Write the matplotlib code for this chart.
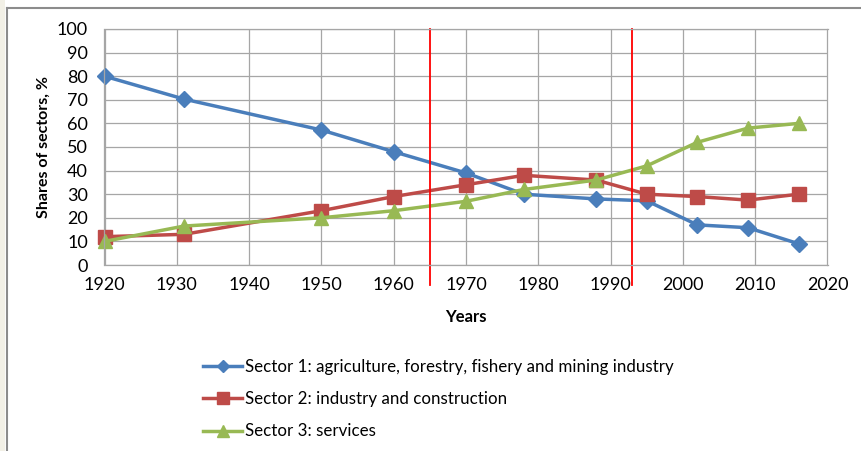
import matplotlib.pyplot as plt
from matplotlib.lines import Line2D
from matplotlib.patches import Rectangle

years = [1920, 1931, 1950, 1960, 1970, 1978, 1988, 1995, 2002, 2009, 2016]
sector1 = [80, 70.3, 57.2, 48, 39, 30, 28, 27.2, 17, 15.8, 9]
sector2 = [12, 13, 23, 29, 34, 38, 36, 30, 29, 27.5, 30]
sector3 = [10, 16.5, 20, 23, 27, 32, 36, 42, 52, 58, 60]
labels = ["Sector 1: agriculture, forestry, fishery and mining industry",
          "Sector 2: industry and construction",
          "Sector 3: services"]
breaks = [1965, 1993]

plt.rcParams['font.family'] = ['Lato', 'DejaVu Sans']

fig = plt.figure(figsize=(8.62, 4.51), dpi=100)
fig.patch.set_facecolor("white")

# chart frame (left/top edges visible in the screenshot)
fig.add_artist(Rectangle((0, 0), 5 / 862, 1, transform=fig.transFigure,
                         facecolor="#f2f0e6", edgecolor="none"))
fig.add_artist(Line2D([7 / 862, 7 / 862], [0, 1 - 8 / 451], transform=fig.transFigure,
                      color="#8c8c8c", lw=1.5))
fig.add_artist(Line2D([7 / 862, 1], [1 - 8 / 451, 1 - 8 / 451], transform=fig.transFigure,
                      color="#8c8c8c", lw=1.5))

ax = fig.add_axes([104.5 / 862, 1 - 265 / 451, 723 / 862, 236 / 451])
ax.set_xlim(1920, 2020)
ax.set_ylim(0, 100)
ax.set_xticks(range(1920, 2021, 10))
ax.set_yticks(range(0, 101, 10))
ax.grid(True, color="#a6a6a6", lw=0.9)
ax.set_axisbelow(True)
for s in ax.spines.values():
    s.set_color("#a6a6a6")
    s.set_linewidth(0.9)
ax.tick_params(length=0, labelsize=13)
ax.tick_params(axis="y", pad=12)
ax.tick_params(axis="x", pad=9)

ax.plot(years, sector1, color="#4a7ebb", lw=2.5, marker="D", ms=8, label=labels[0], clip_on=False)
ax.plot(years, sector2, color="#be4b48", lw=2.5, marker="s", ms=10, label=labels[1], clip_on=False)
ax.plot(years, sector3, color="#98b954", lw=2.5, marker="^", ms=10, label=labels[2], clip_on=False)

for b in breaks:
    ax.plot([b, b], [-8.5, 100], color="#ff0000", lw=1.3, clip_on=False)

ax.set_ylabel("Shares of sectors, %", fontsize=11.5, fontweight="bold", labelpad=4)
ax.set_xlabel("Years", fontsize=12, fontweight="bold", labelpad=11)

handles = [
    Line2D([], [], color="#4a7ebb", lw=2.5, marker="D", ms=6),
    Line2D([], [], color="#be4b48", lw=2.5, marker="s", ms=8),
    Line2D([], [], color="#98b954", lw=2.5, marker="^", ms=8),
]
fig.legend(handles, labels, loc="upper left", bbox_to_anchor=(188 / 862, 1 - 344 / 451),
           frameon=False, fontsize=12.2, handlelength=2.3, handletextpad=0.15,
           labelspacing=0.95)

fig.savefig("out.png", dpi=100)
